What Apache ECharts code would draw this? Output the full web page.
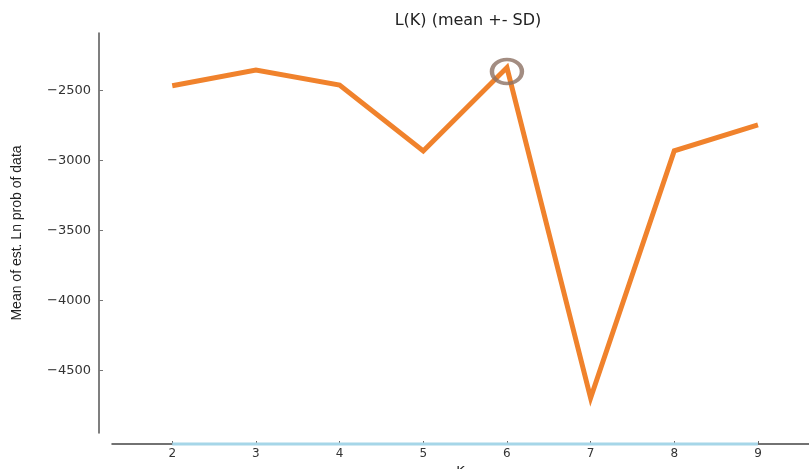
<!DOCTYPE html>
<html>
<head>
<meta charset="utf-8">
<script src="https://cdn.jsdelivr.net/npm/echarts@6/dist/echarts.min.js"></script>
<style>
  html, body { margin: 0; padding: 0; background: #fff; }
  #chart { width: 809px; height: 469px; }
</style>
</head>
<body>
<div id="chart"></div>
<script>
// Number of clusters tested
const kValues = [2, 3, 4, 5, 6, 7, 8, 9];
// Mean of estimated Ln probability of data for each K
const meanLnProb = [-2465, -2352, -2460, -2931, -2335, -4695, -2929, -2745];
// Standard deviation per K (drawn along the K axis)
const sdLnProb = [0, 0, 0, 0, 0, 0, 0, 0];
// Y tick values
const yTicks = [-4500, -4000, -3500, -3000, -2500];
// Highlighted K
const bestK = 6;

const chart = echarts.init(document.getElementById('chart'));

const meanData = kValues.map((k, i) => [k, meanLnProb[i]]);
const sdData = kValues.map((k, i) => [k, sdLnProb[i]]);
const bestData = [[bestK, meanLnProb[kValues.indexOf(bestK)]]];

const fontMain = 'DejaVu Sans, sans-serif';
const X_MIN = 1.28, X_MAX = 9.61;

chart.setOption({
  animation: false,
  backgroundColor: '#ffffff',
  title: {
    text: 'L(K) (mean +- SD)',
    left: 463,
    top: 8,
    textAlign: 'center',
    textStyle: { fontFamily: fontMain, fontSize: 16, fontWeight: 'normal', color: '#222' }
  },
  grid: [
    { left: 112, right: 0, top: 33, bottom: 36, outerBoundsMode: 'none', containLabel: false },
    { left: 112, right: 0, top: 33, bottom: 25, outerBoundsMode: 'none', containLabel: false }
  ],
  xAxis: [
    { gridIndex: 0, type: 'value', min: X_MIN, max: X_MAX, show: false },
    {
      gridIndex: 1, type: 'value', min: X_MIN, max: X_MAX,
      name: 'K', nameLocation: 'middle', nameGap: 21,
      nameTextStyle: { fontFamily: fontMain, fontSize: 13, color: '#222' },
      axisLine: { show: true, onZero: false, lineStyle: { color: '#444', width: 1.5 } },
      axisTick: { show: true, inside: true, length: 3, customValues: kValues, lineStyle: { color: '#666' } },
      axisLabel: { customValues: kValues, fontFamily: fontMain, fontSize: 12, color: '#333', margin: 4 },
      splitLine: { show: false }
    }
  ],
  yAxis: [
    {
      gridIndex: 0, type: 'value', min: -4945, max: -2088, offset: 13,
      name: 'Mean of est. Ln prob of data', nameLocation: 'middle', nameGap: 75,
      nameTextStyle: { fontFamily: 'Liberation Sans Narrow, Liberation Sans, sans-serif', fontSize: 14, color: '#222' },
      axisLine: { show: true, lineStyle: { color: '#555', width: 1.5 } },
      axisTick: { show: true, inside: true, length: 4, customValues: yTicks, lineStyle: { color: '#777' } },
      axisLabel: {
        customValues: yTicks, fontFamily: fontMain, fontSize: 13, color: '#333', margin: 8,
        formatter: v => String(v).replace('-', '\u2212')
      },
      splitLine: { show: false }
    },
    { gridIndex: 1, type: 'value', min: 0, max: 1, show: false }
  ],
  series: [
    {
      type: 'line', xAxisIndex: 1, yAxisIndex: 1, data: sdData,
      showSymbol: false, clip: false, z: 3,
      lineStyle: { color: '#a6d6e8', width: 3 }
    },
    {
      type: 'line', xAxisIndex: 0, yAxisIndex: 0, data: meanData,
      showSymbol: false, clip: false, z: 4,
      lineStyle: { color: '#f0822c', width: 5, join: 'miter' }
    },
    {
      type: 'scatter', xAxisIndex: 0, yAxisIndex: 0, data: bestData,
      symbol: 'circle', symbolSize: [30, 24], symbolOffset: [0, 4], z: 5,
      itemStyle: { color: 'rgba(0,0,0,0)', borderColor: '#8c7163', borderWidth: 4 }
    }
  ]
});
</script>
</body>
</html>
